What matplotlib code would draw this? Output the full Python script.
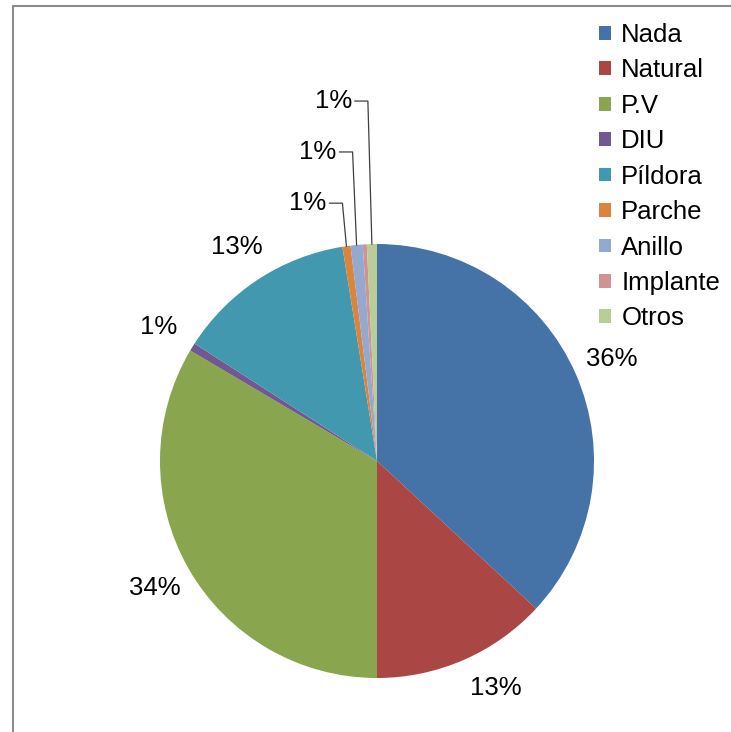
import numpy as np
import matplotlib
matplotlib.use("Agg")
import matplotlib.pyplot as plt
from matplotlib.patches import Rectangle

categories = ["Nada", "Natural", "P.V", "DIU", "Píldora", "Parche", "Anillo", "Implante", "Otros"]
values = [36.9, 13.1, 33.5, 0.6, 13.35, 0.6, 0.9, 0.3, 0.75]
pct_labels = ["36%", "13%", "34%", "1%", "13%", "1%", "1%", "", "1%"]
colors = ["#4572A7", "#AA4643", "#89A54E", "#71588F", "#4198AF",
          "#DB843D", "#93A9CF", "#D19392", "#B9CD96"]
leader_labels = ["Parche", "Anillo", "Otros"]   # labels drawn with leader lines

plt.rcParams['font.family'] = ['Liberation Sans', 'DejaVu Sans']
FS = 18.5

W, H = 731, 732
fig = plt.figure(figsize=(W / 100, H / 100), dpi=100)
ax = fig.add_axes([0, 0, 1, 1])

cx, cy, R = 377, H - 461, 217

wedges, _ = ax.pie(values, colors=colors, startangle=90, counterclock=False,
                   center=(cx, cy), radius=R, frame=True,
                   wedgeprops=dict(linewidth=0))
ax.set_xlim(0, W)
ax.set_ylim(0, H)
ax.axis('off')

lead_offsets = [43, 93, 143]
li = 0
for w, name, lab in zip(wedges, categories, pct_labels):
    if not lab:
        continue
    mid = np.deg2rad((w.theta1 + w.theta2) / 2)
    if name in leader_labels:
        ex, ey = cx + R * np.cos(mid), cy + R * np.sin(mid)
        ty = ey + lead_offsets[li]
        li += 1
        ax.text(ex - 20, ty, lab, ha='right', va='center', fontsize=FS, color='black')
        ax.plot([ex - 17, ex - 4, ex], [ty, ty, ey], color='#404040', lw=0.9)
    else:
        r = 1.18 * R
        if name == "Natural":
            mid += np.deg2rad(4)
        ax.text(cx + r * np.cos(mid), cy + r * np.sin(mid), lab,
                ha='center', va='center', fontsize=FS, color='black')

# chart area frame
ax.add_patch(Rectangle((13, -50), W + 100, H - 6 + 50, fill=False,
                       edgecolor='#8c8c8c', lw=1.5))

leg = ax.legend(wedges, categories, loc='upper left',
                bbox_to_anchor=(599 / W, 1 - 23 / H), bbox_transform=fig.transFigure,
                frameon=False, fontsize=FS, handlelength=0.45, handleheight=0.45,
                handletextpad=0.42, labelspacing=0.445, borderpad=0, borderaxespad=0)

fig.savefig("out.png", dpi=100, facecolor='white')
